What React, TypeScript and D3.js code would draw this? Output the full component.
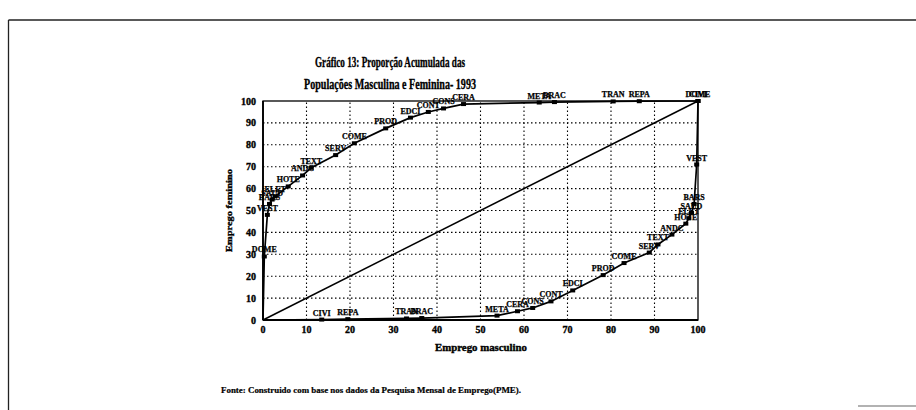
import React from "react";
import * as d3 from "d3";

const xTicks = [0, 10, 20, 30, 40, 50, 60, 70, 80, 90, 100];
const yTicks = [0, 10, 20, 30, 40, 50, 60, 70, 80, 90, 100];

const upperLabels = ["DOME", "VEST", "BARS", "SAUD", "ELET", "HOTE", "ANDC", "TEXT", "SERV", "COME", "PROD", "EDCI", "CONT", "CONS", "CERA", "META", "BRAC", "TRAN", "REPA", "CIVI"];
const upperX = [0.3, 1.0, 1.5, 2.1, 2.8, 5.8, 9.1, 11.1, 16.7, 21.0, 28.2, 33.9, 38.0, 41.5, 46.1, 63.5, 67.0, 80.5, 86.5, 100];
const upperY = [29, 48, 53, 55, 56.5, 61, 66, 69.5, 75.3, 80.7, 87.5, 92.4, 95.0, 96.6, 98.6, 99.3, 99.5, 99.8, 99.9, 100];

const lowerLabels = ["CIVI", "REPA", "TRAN", "BRAC", "META", "CERA", "CONS", "CONT", "EDCI", "PROD", "COME", "SERV", "TEXT", "ANDC", "HOTE", "ELET", "SAUD", "BARS", "VEST", "DOME"];
const lowerX = [13.5, 19.5, 33.0, 36.5, 53.8, 58.5, 62.0, 66.2, 71.2, 78.2, 83.0, 88.8, 90.8, 94.0, 97.2, 97.9, 98.5, 99.1, 99.7, 100];
const lowerY = [0.2, 0.4, 0.7, 0.9, 2.0, 4.0, 5.5, 8.5, 13.5, 20.5, 26.0, 30.8, 34.5, 39.0, 44.0, 46.5, 49.0, 53.0, 71, 100];

const diagonal = [0, 100];

const title1 = "Gráfico 13: Proporção Acumulada das";
const title2 = "Populações Masculina e Feminina- 1993";
const xTitle = "Emprego masculino";
const yTitle = "Emprego feminino";
const footnote = "Fonte: Construido com base nos dados da Pesquisa Mensal de Emprego(PME).";

const FONT = "'Liberation Serif', 'Times New Roman', serif";

export default function App() {
  const x = d3.scaleLinear().domain([0, 100]).range([263, 698]);
  const y = d3.scaleLinear().domain([0, 100]).range([320, 101]);

  const line = d3
    .line<[number, number]>()
    .x((d) => x(d[0]))
    .y((d) => y(d[1]));

  const upperPts: [number, number][] = [[0, 0], ...upperX.map((v, i) => [v, upperY[i]] as [number, number])];
  const lowerPts: [number, number][] = [[0, 0], ...lowerX.map((v, i) => [v, lowerY[i]] as [number, number])];
  const diagPts: [number, number][] = diagonal.map((v) => [v, v] as [number, number]);

  const heavy = { stroke: "#000", strokeWidth: 0.35 };

  const markers = (xs: number[], ys: number[], labels: string[], key: string) =>
    xs.map((v, i) => (
      <g key={key + i}>
        <rect x={x(v) - 2.5} y={y(ys[i]) - 2} width={5} height={4} fill="#000" />
        <text
          x={x(v)}
          y={y(ys[i]) - 4}
          textAnchor="middle"
          fontFamily={FONT}
          fontWeight="bold"
          fontSize={8}
          fill="#000"
          {...heavy}
          strokeWidth={0.25}
        >
          {labels[i]}
        </text>
      </g>
    ));

  return (
    <svg
      width={916}
      height={410}
      style={{ position: "absolute", left: 0, top: 0, background: "#fff" }}
    >
      <rect x={0} y={0} width={916} height={410} fill="#fff" />
      {/* outer frame */}
      <line x1={8.5} y1={20} x2={916} y2={20} stroke="#222" strokeWidth={1.3} />
      <line x1={8.5} y1={20} x2={8.5} y2={410} stroke="#222" strokeWidth={1.3} />
      <line x1={858} y1={406} x2={916} y2={406} stroke="#999" strokeWidth={1.5} />

      {/* titles */}
      <text x={390} y={67} textAnchor="middle" fontFamily={FONT} fontWeight="bold" fontSize={14.5} textLength={150} lengthAdjust="spacingAndGlyphs" {...heavy}>
        {title1}
      </text>
      <text x={390} y={89} textAnchor="middle" fontFamily={FONT} fontWeight="bold" fontSize={14.5} textLength={172} lengthAdjust="spacingAndGlyphs" {...heavy}>
        {title2}
      </text>

      {/* grid */}
      {xTicks.slice(1, -1).map((t) => (
        <line key={"gx" + t} x1={x(t)} x2={x(t)} y1={y(0)} y2={y(100)} stroke="#000" strokeWidth={1.1} strokeDasharray="1.5,2.5" />
      ))}
      {yTicks.slice(1, -1).map((t) => (
        <line key={"gy" + t} x1={x(0)} x2={x(100)} y1={y(t)} y2={y(t)} stroke="#000" strokeWidth={1.1} strokeDasharray="1.5,2.5" />
      ))}

      {/* plot frame */}
      <rect x={x(0)} y={y(100)} width={x(100) - x(0)} height={y(0) - y(100)} fill="none" stroke="#000" strokeWidth={1.3} />
      <line x1={x(0)} x2={x(100)} y1={y(0)} y2={y(0)} stroke="#000" strokeWidth={2} />
      <line x1={x(0)} x2={x(0)} y1={y(0)} y2={y(100)} stroke="#000" strokeWidth={1.8} />

      {/* tick labels */}
      {xTicks.map((t) => (
        <text key={"tx" + t} x={x(t)} y={333} textAnchor="middle" fontFamily={FONT} fontWeight="bold" fontSize={10} {...heavy}>
          {t}
        </text>
      ))}
      {yTicks.map((t) => (
        <text key={"ty" + t} x={256} y={y(t) + 3.5} textAnchor="end" fontFamily={FONT} fontWeight="bold" fontSize={10} {...heavy}>
          {t}
        </text>
      ))}

      {/* axis titles */}
      <text x={481} y={351} textAnchor="middle" fontFamily={FONT} fontWeight="bold" fontSize={10} textLength={92} lengthAdjust="spacingAndGlyphs" {...heavy}>
        {xTitle}
      </text>
      <text
        transform={`translate(232,${(y(0) + y(100)) / 2}) rotate(-90)`}
        textAnchor="middle"
        fontFamily={FONT}
        fontWeight="bold"
        fontSize={9}
        textLength={83}
        lengthAdjust="spacingAndGlyphs"
        {...heavy}
      >
        {yTitle}
      </text>

      {/* lines */}
      <path d={line(diagPts) || ""} fill="none" stroke="#000" strokeWidth={1.5} />
      <path d={line(upperPts) || ""} fill="none" stroke="#000" strokeWidth={1.7} />
      <path d={line(lowerPts) || ""} fill="none" stroke="#000" strokeWidth={1.7} />

      {markers(upperX, upperY, upperLabels, "u")}
      {markers(lowerX, lowerY, lowerLabels, "l")}

      {/* footnote */}
      <text x={221} y={393} fontFamily={FONT} fontWeight="bold" fontSize={8} textLength={300} lengthAdjust="spacingAndGlyphs" {...heavy} strokeWidth={0.2}>
        {footnote}
      </text>
    </svg>
  );
}
